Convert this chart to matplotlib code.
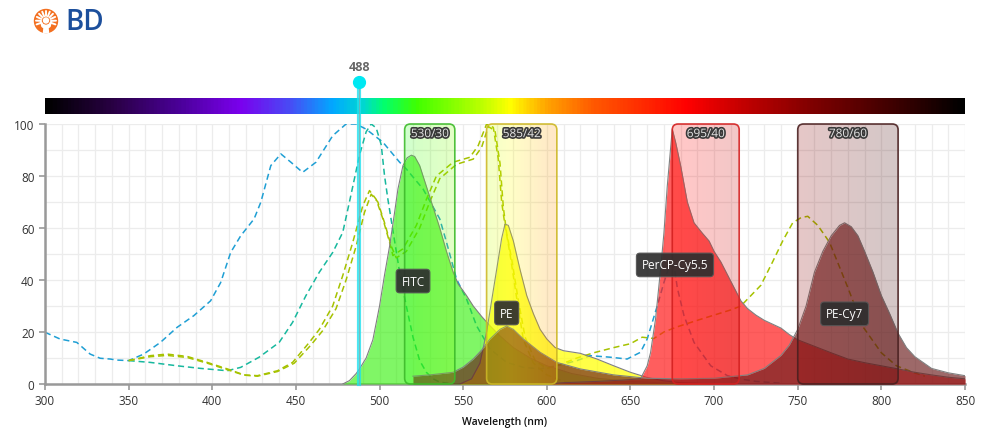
import numpy as np
import matplotlib
matplotlib.use("Agg")
import matplotlib.pyplot as plt
import matplotlib.patheffects as pe
from matplotlib.colors import LinearSegmentedColormap, Normalize
from matplotlib.patches import FancyBboxPatch, Circle, Polygon

plt.rcParams['font.family'] = ['Open Sans', 'DejaVu Sans']

# excitation spectra (dashed)
percp_ex_wl = [300, 309, 319, 327, 333, 339, 343, 350, 359, 369, 379, 389, 399, 405, 411, 417, 425, 429,
               435, 441, 447, 454, 462, 472, 480, 486, 492, 502, 512, 516, 526, 536, 540, 546, 552, 558,
               566, 576, 586, 596, 606, 618, 626, 638, 648, 656, 660, 666, 670, 673, 676, 678, 682, 688,
               698, 708, 716, 725, 740]
percp_ex_val = [19.9, 17.3, 16, 11.5, 9.9, 9.6, 9.2, 9, 11.5, 16, 21.8, 26.3, 32, 39, 50.6, 57, 63.5, 69.9,
                84, 88.5, 85.3, 81.4, 85.3, 95.5, 100, 100, 98, 93, 85.3, 82.7, 75, 63.5, 54.6, 40.4, 32.7, 22.4,
                13.5, 8.3, 6.4, 5.8, 7, 9, 10.9, 10.3, 9.6, 12.2, 17.3, 30, 39, 45, 46, 37, 26.3, 16,
                7, 3.2, 1.9, 1, 0.3]

fitc_ex_wl = [350, 363, 379, 393, 409, 417, 428, 440, 448, 456, 464, 472, 478, 482, 488, 492, 495, 498,
              501, 503, 505, 509, 512, 516, 520, 524, 528, 532, 536, 545]
fitc_ex_val = [9, 8.3, 7, 6, 5.1, 6.4, 10.3, 16, 23.7, 34, 43, 50.6, 58.3, 70, 88, 97, 100, 98.5,
               92, 80, 71, 55, 43, 30, 18, 9, 4.5, 2, 0.7, 0]

pe_ex_wl = [350, 363, 373, 385, 397, 409, 419, 427, 439, 448, 458, 464, 472, 478, 484, 490, 494, 498,
            502, 506, 508, 514, 522, 528, 534, 544, 554, 559, 564, 568, 571, 573, 575, 578, 582, 586,
            592, 600, 610, 620]
pe_ex_val = [9, 10.9, 11.5, 10.6, 8.3, 5.8, 3.5, 3.2, 5.1, 8.3, 16, 21, 30, 41.7, 54.5, 68.6, 74.4, 71,
             63.5, 54.5, 49.4, 52, 61, 71, 80, 85.3, 87.2, 91.7, 100, 98.7, 86.5, 70, 61, 50, 33, 17,
             8, 3.5, 1, 0]

pecy7_ex_wl = [350, 363, 373, 385, 397, 409, 419, 427, 439, 449, 459, 466, 474, 480, 486, 491, 495, 499,
               503, 507, 510, 516, 524, 530, 536, 546, 556, 561, 565, 569, 572, 574, 576, 579, 583, 587,
               593, 600, 608, 618, 628, 640, 650, 657, 664, 670, 678, 690, 700, 710, 716, 722, 728, 735,
               741, 747, 752, 756, 762, 769, 775, 780, 789, 800, 809, 819, 826]
pecy7_ex_val = [9, 10.5, 11, 10.2, 8, 5.5, 3.4, 3, 4.8, 8, 15, 20.5, 29, 40, 53, 66, 73, 70,
                62, 53, 48.5, 51, 60, 70, 79, 84.5, 86.5, 91, 99, 97.5, 85, 68, 58, 48, 32, 18,
                9, 6, 7.5, 10, 12, 14, 15.5, 18, 17.5, 20, 22, 24.5, 26.5, 28.5, 30, 34, 38, 47,
                55, 62, 64, 64.5, 61, 54.5, 45, 37, 22, 12, 7, 4.5, 3]

# emission spectra (filled)
fitc_em_wl = [478, 482, 486, 488, 492, 496, 500, 503, 506, 509, 511, 514, 516.5, 519, 521, 524, 528, 532,
              536, 540, 544, 547, 552, 556, 561, 566, 572, 580, 590, 600, 615, 630, 650, 670, 690]
fitc_em_val = [0, 1.3, 4, 5.8, 10, 17, 30, 42, 53, 66, 75, 84, 87, 88, 87.5, 84, 76, 68,
               60, 51, 43, 38.5, 34, 30, 26, 22.4, 18.5, 14, 10, 7, 4, 2.2, 1, 0.4, 0]

pe_em_wl = [548, 555, 560, 564, 567, 570, 573, 575, 577, 580, 584, 588, 592, 596, 600, 605, 610, 620,
            630, 640, 650, 660, 670, 680, 700]
pe_em_val = [0, 2, 8, 20, 32, 44, 56, 61.5, 61, 55, 44, 34, 27, 21, 17.3, 14, 12.8, 11.8,
             9.6, 7, 4.5, 2.5, 1.2, 0.5, 0]

percp_em_wl = [600, 610, 630, 645, 656, 660, 662, 665, 668, 670, 672, 675, 677, 680, 684, 688, 693, 697,
               700, 704, 708, 712, 716, 720, 725, 730, 735, 740, 745, 750, 760, 770, 780, 790, 800, 810,
               820, 830, 840, 850]
percp_em_val = [0, 0.5, 1, 1.5, 2, 7, 12, 25, 44, 58, 76, 98, 93, 84, 70, 62, 58, 55,
                51, 47, 42, 37, 32, 29, 26.5, 24.5, 23, 21.5, 19, 17, 14.5, 12, 9.6, 8.2, 7, 5.8,
                4.5, 3.5, 2.6, 2]

pecy7_em_wl = [520, 530, 544, 550, 556, 561, 566, 572, 576, 580, 586, 596, 606, 620, 640, 660, 680, 700,
               720, 730, 740, 745, 750, 755, 760, 765, 770, 775, 778, 782, 786, 790, 795, 800, 805, 810,
               815, 820, 830, 840, 850]
pecy7_em_val = [3, 3.5, 4.5, 6.5, 9.6, 13, 17.3, 21, 22.3, 21, 17.3, 12.2, 8.3, 5.8, 3.5, 2.2, 2, 2.2,
                3.5, 6, 11, 15, 21, 30, 43, 51, 57, 61, 62, 60.5, 57, 51, 43, 34, 27, 19.5,
                14, 10.5, 6, 4.3, 3.2]

dye_names = ['FITC', 'PE', 'PerCP-Cy5.5', 'PE-Cy7']
dye_label_pos = [(520, 39.6), (576, 27.3), (676.6, 45.8), (778, 27)]

filter_names = ['530/30', '585/42', '695/40', '780/60']
filter_centers = [530, 585, 695, 780]
filter_widths = [30, 42, 40, 60]
filter_edges = ['#3dbb2a', '#cdb825', '#d42020', '#4a2020']

laser_nm = 488

spec_wl = [300, 340, 380, 416, 445, 472, 490, 502, 522, 562, 578, 600, 628, 684, 720, 759, 819, 850]
spec_col = ['#000000', '#2a0045', '#4b009a', '#7b00ee', '#4a4af5', '#00aaff', '#00d8d0', '#00ff70',
            '#40ff00', '#c0ff00', '#ffff00', '#ffa500', '#ff5a00', '#ff0000', '#c00000', '#800000',
            '#300000', '#000000']
spec_cmap = LinearSegmentedColormap.from_list(
    'spec', [((w - 300) / 550, c) for w, c in zip(spec_wl, spec_col)])

fig = plt.figure(figsize=(9.9, 4.35), dpi=100)

# logo
lax = fig.add_axes([0, 1 - 45 / 435, 130 / 990, 45 / 435])
lax.set_xlim(0, 130)
lax.set_ylim(45, 0)
lax.axis('off')
lax.add_patch(Circle((46, 22), 11.5, color='#f37021'))
for a in np.radians(np.linspace(-200, 20, 11)):
    lax.plot([46 + 5 * np.cos(a), 46 + 10 * np.cos(a)],
             [22 + 5 * np.sin(a), 22 + 10 * np.sin(a)], color='white', lw=1.4, solid_capstyle='round')
lax.add_patch(Circle((46, 21.5), 2.5, color='white'))
lax.add_patch(Polygon([(40.5, 22), (43, 25.5), (46, 26.5), (49, 25.5), (51.5, 22), (50, 27.5),
                       (48, 29), (48.5, 33.5), (43.5, 33.5), (44, 29), (42, 27.5)], color='white'))
lax.text(65, 22.5, 'BD', fontsize=20, color='#1c4f9c', fontweight='semibold', va='center', ha='left')

# spectrum bar
bax = fig.add_axes([45 / 990, 1 - 115 / 435, 920 / 990, 16 / 435])
bax.imshow(np.linspace(300, 850, 600)[None, :], cmap=spec_cmap, norm=Normalize(300, 850),
           aspect='auto', extent=[300, 850, 0, 1])
bax.axis('off')

ax = fig.add_axes([45 / 990, 50 / 435, 920 / 990, 260 / 435])
ax.set_xlim(300, 850)
ax.set_ylim(0, 100)

ax.set_xticks(np.arange(300, 851, 10), minor=True)
ax.set_yticks(np.arange(0, 101, 10), minor=True)
ax.set_xticks(np.arange(300, 851, 50))
ax.set_yticks(np.arange(0, 101, 20))
ax.grid(which='both', color='#ececec', lw=0.9, zorder=0)
ax.tick_params(which='minor', length=0)
ax.tick_params(which='major', length=4, width=1.2, color='#999999', labelcolor='#333333', labelsize=8.5)
for s in ['top', 'right']:
    ax.spines[s].set_visible(False)
for s in ['left', 'bottom']:
    ax.spines[s].set_color('#999999')
    ax.spines[s].set_linewidth(1.8)
ax.set_xlabel('Wavelength (nm)', fontsize=7.5, fontweight='semibold', color='#111111', labelpad=6)

dash = (0, (4, 2.5))
ax.plot(percp_ex_wl, percp_ex_val, color='#1f9fd4', lw=1.1, ls=dash, zorder=2)
ax.plot(fitc_ex_wl, fitc_ex_val, color='#17b89e', lw=1.1, ls=dash, zorder=2)
ax.plot(pe_ex_wl, pe_ex_val, color='#a6c200', lw=1.1, ls=dash, zorder=2)
ax.plot(pecy7_ex_wl, pecy7_ex_val, color='#a6c200', lw=1.1, ls=dash, zorder=2)

ems = [(fitc_em_wl, fitc_em_val, '#2cf000', 0.6),
       (pe_em_wl, pe_em_val, '#ffff00', 0.72),
       (percp_em_wl, percp_em_val, '#ff1a1a', 0.7),
       (pecy7_em_wl, pecy7_em_val, '#6a1c1c', 0.66)]
for wl, val, col, al in ems:
    ax.fill_between(wl, val, 0, color=col, alpha=al, lw=0, zorder=3)
    ax.plot(wl, val, color='#808080', lw=0.8, zorder=3)

# filters
for name, c, w, ec in zip(filter_names, filter_centers, filter_widths, filter_edges):
    lo, hi = c - w / 2, c + w / 2
    box = FancyBboxPatch((lo, 0), hi - lo, 100, boxstyle='round,pad=0,rounding_size=3.5',
                         mutation_aspect=0.64, facecolor='none', edgecolor=ec, lw=1.2,
                         alpha=0.9, zorder=5, clip_on=False)
    ax.add_patch(box)
    im = ax.imshow(np.linspace(lo, hi, 60)[None, :], cmap=spec_cmap, norm=Normalize(300, 850),
                   aspect='auto', extent=[lo, hi, 0, 100], alpha=0.22, zorder=4, clip_on=True)
    im.set_clip_path(box)
    ax.text(c, 96.3, name, ha='center', va='center', fontsize=8.5, color='#e6e6e6', zorder=7,
            path_effects=[pe.withStroke(linewidth=2.4, foreground='#3a3a3a')])

ax.set_xlim(300, 850)
ax.set_ylim(0, 100)

# laser
ax.plot([laser_nm, laser_nm], [0, 116.2], color='#20e0ee', lw=3, alpha=0.8, clip_on=False, zorder=6)
ax.plot([laser_nm, laser_nm], [0, 114], color='#9a9a9a', lw=0.6, alpha=0.7, clip_on=False, zorder=6)
ax.plot([laser_nm], [116.2], 'o', ms=8.5, color='#00e8f2', clip_on=False, zorder=7)
ax.text(laser_nm, 122, str(laser_nm), ha='center', va='center', fontsize=9, color='#666666',
        fontweight='bold')

for name, (x, y) in zip(dye_names, dye_label_pos):
    ax.text(x, y, name, ha='center', va='center', fontsize=8.5, color='white', zorder=9,
            bbox=dict(boxstyle='round,pad=0.45,rounding_size=0.3', fc='#2e2e2e', ec='#555555',
                      lw=0.8, alpha=0.92))

fig.savefig('out.png', dpi=100)
